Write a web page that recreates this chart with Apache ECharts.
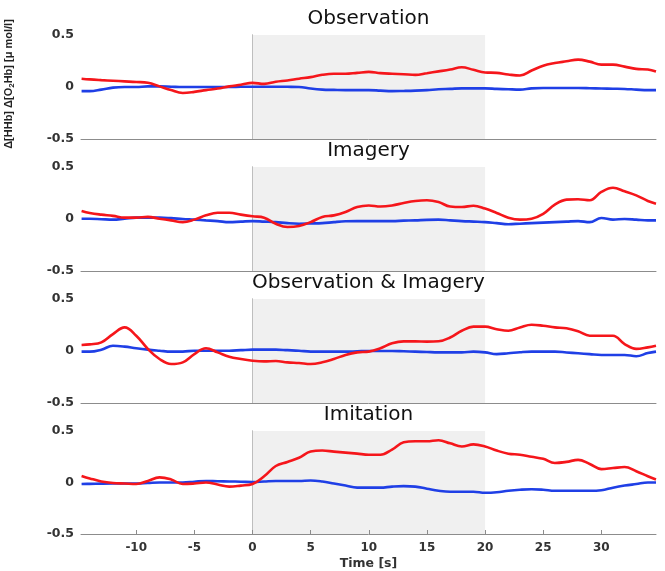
<!DOCTYPE html>
<html>
<head>
<meta charset="utf-8">
<script src="https://cdn.jsdelivr.net/npm/echarts@6/dist/echarts.min.js"></script>
<style>
html,body{margin:0;padding:0;background:#fff;}
#chart{width:665px;height:571px;}
</style>
</head>
<body>
<div id="chart"></div>
<script>
// ---- data ----
var time = [-14.7,-14,-13,-12,-11,-10,-9,-8,-7,-6,-5,-4,-3,-2,-1,0,1,2,3,4,5,6,7,8,9,10,11,12,13,14,15,16,17,18,19,20,21,22,23,24,25,26,27,28,29,30,31,32,33,34,34.7];

var panelTitles = ['Observation', 'Imagery', 'Observation & Imagery', 'Imitation'];
var xTickValues = [-10, -5, 0, 5, 10, 15, 20, 25, 30];
var yTickValues = [-0.5, 0, 0.5];
var taskStart = 0, taskEnd = 20;

// Δ[O2Hb] (red) and Δ[HHb] (blue), μmol/l
var observationO2Hb = [0.08,0.073,0.066,0.06,0.054,0.048,0.04,0.006,-0.03,-0.057,-0.047,-0.03,-0.015,0.006,0.022,0.04,0.03,0.05,0.063,0.08,0.095,0.117,0.127,0.127,0.136,0.145,0.133,0.127,0.123,0.117,0.133,0.15,0.168,0.19,0.165,0.14,0.136,0.12,0.11,0.158,0.205,0.23,0.247,0.263,0.244,0.215,0.215,0.196,0.174,0.168,0.15];
var observationHHb = [-0.04,-0.04,-0.025,-0.006,0,0,0.006,0.006,0.003,0,0,0,0,0,0.002,0.003,0.003,0.003,0.002,0,-0.015,-0.025,-0.028,-0.03,-0.03,-0.03,-0.035,-0.04,-0.038,-0.035,-0.03,-0.022,-0.018,-0.013,-0.013,-0.013,-0.018,-0.022,-0.025,-0.013,-0.01,-0.01,-0.01,-0.01,-0.012,-0.015,-0.017,-0.019,-0.025,-0.03,-0.03];

var imageryO2Hb = [0.077,0.058,0.042,0.03,0.013,0.013,0.02,0.003,-0.013,-0.03,-0.006,0.035,0.06,0.06,0.042,0.026,0.013,-0.045,-0.077,-0.067,-0.03,0.02,0.035,0.067,0.115,0.13,0.12,0.13,0.154,0.173,0.18,0.163,0.12,0.115,0.128,0.1,0.058,0.013,-0.006,0.003,0.05,0.138,0.186,0.19,0.18,0.26,0.3,0.266,0.227,0.173,0.147];
var imageryHHb = [0.003,0.002,-0.002,-0.006,0.003,0.013,0.013,0.013,0.008,0,-0.006,-0.013,-0.02,-0.03,-0.025,-0.02,-0.025,-0.03,-0.04,-0.045,-0.043,-0.04,-0.03,-0.022,-0.02,-0.02,-0.02,-0.02,-0.016,-0.013,-0.008,-0.006,-0.013,-0.02,-0.025,-0.03,-0.04,-0.05,-0.045,-0.04,-0.035,-0.03,-0.025,-0.02,-0.03,0.01,-0.006,0,-0.006,-0.013,-0.013];

var obsImgO2Hb = [0.058,0.064,0.083,0.163,0.227,0.147,0.02,-0.077,-0.125,-0.109,-0.03,0.026,-0.013,-0.055,-0.077,-0.093,-0.1,-0.096,-0.109,-0.115,-0.125,-0.109,-0.077,-0.038,-0.013,-0.006,0.026,0.074,0.093,0.093,0.09,0.093,0.13,0.195,0.234,0.234,0.21,0.195,0.227,0.253,0.243,0.227,0.218,0.19,0.147,0.147,0.147,0.067,0.02,0.035,0.05];
var obsImgHHb = [-0.006,-0.006,0.013,0.05,0.042,0.026,0.013,0.003,-0.006,-0.006,0.003,0.003,0.003,0.003,0.008,0.013,0.013,0.013,0.008,0.003,-0.006,-0.006,-0.006,-0.006,-0.003,0,0,0,-0.003,-0.006,-0.01,-0.013,-0.013,-0.013,-0.006,-0.013,-0.03,-0.022,-0.012,-0.006,-0.006,-0.006,-0.014,-0.022,-0.03,-0.038,-0.038,-0.038,-0.05,-0.02,-0.006];

var imitationO2Hb = [0.064,0.04,0.01,-0.005,-0.01,-0.015,0.015,0.05,0.03,-0.015,-0.01,0,-0.02,-0.04,-0.03,-0.015,0.06,0.16,0.2,0.24,0.3,0.31,0.3,0.29,0.28,0.27,0.27,0.32,0.39,0.4,0.4,0.41,0.38,0.35,0.37,0.35,0.31,0.28,0.27,0.25,0.23,0.19,0.2,0.22,0.18,0.13,0.14,0.15,0.11,0.06,0.03];
var imitationHHb = [-0.015,-0.013,-0.011,-0.01,-0.01,-0.01,-0.005,0,0,0,0.008,0.015,0.012,0.01,0.008,0.005,0.01,0.015,0.015,0.015,0.02,0.01,-0.01,-0.03,-0.05,-0.05,-0.05,-0.04,-0.035,-0.04,-0.06,-0.08,-0.09,-0.09,-0.09,-0.1,-0.095,-0.08,-0.07,-0.065,-0.07,-0.08,-0.08,-0.08,-0.08,-0.075,-0.05,-0.03,-0.015,0,0];

var redSeries = [observationO2Hb, imageryO2Hb, obsImgO2Hb, imitationO2Hb];
var blueSeries = [observationHHb, imageryHHb, obsImgHHb, imitationHHb];

// ---- layout ----
var gridTops = [35, 167, 299, 431];
var gridH = 104, gridLeft = 81, gridW = 575;
var FONT = 'DejaVu Sans';

function pairs(xs, ys) { return xs.map(function (x, i) { return [x, ys[i]]; }); }

var grids = [], xAxes = [], yAxes = [], series = [], titles = [];
for (var i = 0; i < 4; i++) {
  var last = (i === 3);
  grids.push({ left: gridLeft, top: gridTops[i], width: gridW, height: gridH });
  titles.push({
    text: panelTitles[i], left: gridLeft + gridW / 2, top: gridTops[i] - 26, textAlign: 'center', padding: 0,
    textStyle: { fontFamily: FONT, fontSize: 20, fontWeight: 'normal', color: '#111' }
  });
  xAxes.push({
    type: 'value', gridIndex: i, min: -14.75, max: 34.7, z: last ? 5 : 0,
    axisLine: { show: true, onZero: false, lineStyle: { color: '#8c8c8c', width: 1 } },
    axisTick: { show: last, inside: true, length: 4, customValues: xTickValues, lineStyle: { color: '#8c8c8c' } },
    axisLabel: { show: last, customValues: xTickValues, margin: 8, fontFamily: FONT, fontWeight: 'bold', fontSize: 12, color: '#333' },
    splitLine: { show: false },
    name: last ? 'Time [s]' : '', nameLocation: 'middle', nameGap: 23,
    nameTextStyle: { fontFamily: FONT, fontWeight: 'bold', fontSize: 12.5, color: '#333' }
  });
  yAxes.push({
    type: 'value', gridIndex: i, min: -0.5, max: 0.5, interval: 0.5,
    axisLine: { show: true, lineStyle: { color: '#8c8c8c', width: 1 } },
    axisTick: { show: true, inside: true, length: 4, lineStyle: { color: '#8c8c8c' } },
    axisLabel: { margin: 7, fontFamily: FONT, fontWeight: 'bold', fontSize: 12.5, color: '#333',
      formatter: function (v) { return String(v); } },
    splitLine: { show: false }
  });
  series.push({
    type: 'line', xAxisIndex: i, yAxisIndex: i, data: [], z: 1, silent: true,
    markArea: { silent: true, itemStyle: { color: '#f0f0f0' }, data: [[{ xAxis: taskStart }, { xAxis: taskEnd }]] }
  });
  series.push({
    type: 'line', xAxisIndex: i, yAxisIndex: i, data: pairs(time, blueSeries[i]), z: 3,
    showSymbol: false, smooth: 0.4, lineStyle: { color: '#1f3fe6', width: 2.6 }, silent: true
  });
  series.push({
    type: 'line', xAxisIndex: i, yAxisIndex: i, data: pairs(time, redSeries[i]), z: 4,
    showSymbol: false, smooth: 0.4, lineStyle: { color: '#f5161b', width: 2.6 }, silent: true
  });
}

var chart = echarts.init(document.getElementById('chart'), null, { renderer: 'canvas' });
chart.setOption({
  animation: false,
  backgroundColor: '#fff',
  title: titles,
  grid: grids,
  xAxis: xAxes,
  yAxis: yAxes,
  series: series,
  graphic: [{
    type: 'text', x: 9, y: 84, rotation: Math.PI / 2,
    style: {
      text: 'Δ[HHb] Δ[O{sub|2}Hb] [μ mol/l]',
      align: 'center', verticalAlign: 'middle',
      fontFamily: 'Liberation Sans', fontWeight: 'bold', fontSize: 11, fill: '#222',
      rich: { sub: { fontFamily: 'Liberation Sans', fontWeight: 'bold', fontSize: 8, padding: [6, 0, 0, 0], fill: '#222' } }
    }
  }]
});
</script>
</body>
</html>
